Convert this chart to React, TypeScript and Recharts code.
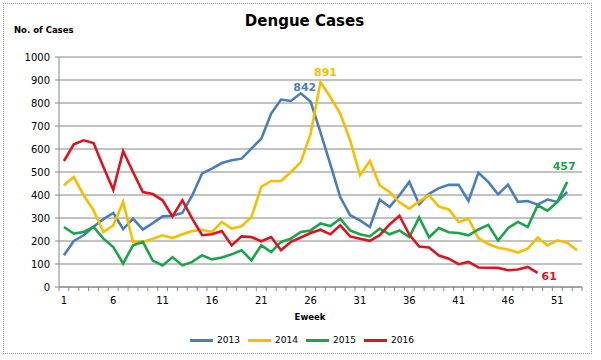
import React from 'react';
import { LineChart, Line, XAxis, YAxis, CartesianGrid } from 'recharts';

const weeks = [
  1, 2, 3, 4, 5, 6, 7, 8, 9, 10, 11, 12, 13, 14, 15, 16, 17, 18, 19, 20, 21, 22, 23, 24, 25, 26,
  27, 28, 29, 30, 31, 32, 33, 34, 35, 36, 37, 38, 39, 40, 41, 42, 43, 44, 45, 46, 47, 48, 49, 50,
  51, 52, 53,
];
const weekTickLabels = [1, 6, 11, 16, 21, 26, 31, 36, 41, 46, 51];
const caseTicks = [0, 100, 200, 300, 400, 500, 600, 700, 800, 900, 1000];

const cases2013 = [
  138, 200, 225, 262, 295, 322, 252, 297, 250, 278, 307, 310, 322, 398, 494, 515, 539, 551, 558, 602,
  645, 754, 815, 809, 842, 805, 672, 533, 391, 312, 290, 261, 380, 348, 399, 457, 360, 405, 430, 444,
  444, 374, 497, 457, 403, 445, 370, 374, 358, 380, 370, 413, null,
];
const cases2014 = [
  442, 478, 399, 333, 239, 268, 370, 196, 196, 210, 225, 213, 229, 243, 249, 239, 283, 254, 264, 304,
  435, 461, 461, 500, 543, 667, 891, 826, 754, 638, 486, 548, 442, 413, 368, 341, 372, 399, 350, 337,
  283, 297, 212, 187, 171, 163, 150, 167, 215, 181, 203, 193, 160,
];
const cases2015 = [
  261, 232, 239, 261, 210, 174, 102, 181, 196, 115, 94, 130, 94, 109, 138, 120, 128, 142, 160, 116,
  181, 152, 196, 210, 239, 246, 276, 265, 297, 246, 229, 220, 254, 229, 246, 217, 303, 216, 256, 238,
  235, 225, 250, 270, 202, 256, 283, 261, 355, 332, 370, 457, null,
];
const cases2016 = [
  548, 620, 638, 626, 522, 423, 591, 500, 413, 404, 377, 307, 377, 297, 225, 229, 243, 181, 220, 217,
  199, 217, 160, 196, 215, 235, 249, 229, 268, 220, 210, 201, 225, 272, 310, 228, 176, 172, 137, 123,
  99, 109, 85, 84, 83, 73, 76, 87, 61, null, null, null, null,
];

const series = [
  { key: 'y2013', name: '2013', values: cases2013, color: '#4a7ebb', labelWeek: 25 },
  { key: 'y2014', name: '2014', values: cases2014, color: '#f7be00', labelWeek: 27 },
  { key: 'y2015', name: '2015', values: cases2015, color: '#1aa54a', labelWeek: 52 },
  { key: 'y2016', name: '2016', values: cases2016, color: '#dc1420', labelWeek: 49 },
];

const data = weeks.map((w, i) => {
  const row: any = { week: w };
  series.forEach((s) => (row[s.key] = s.values[i]));
  return row;
});

// where each data label sits relative to its point
const labelPos: Record<string, { dx: number; dy: number; anchor: string }> = {
  y2013: { dx: 4, dy: -2, anchor: 'middle' },
  y2014: { dx: 5, dy: -6, anchor: 'middle' },
  y2015: { dx: -3, dy: -12, anchor: 'middle' },
  y2016: { dx: 4, dy: 7, anchor: 'start' },
};

const W = 601;
const H = 360;
const margin = { top: 57, right: 19, left: 19, bottom: 43 };
const yAxisW = 40;
const plotW = W - margin.left - margin.right - yAxisW;
const band = plotW / weeks.length;
const axisColor = '#868686';
const font = '"DejaVu Sans", sans-serif';

const WeekTick = (props: any) => {
  const { x, y, payload, index } = props;
  const show = weekTickLabels.includes(payload.value);
  return (
    <g>
      <line x1={x - band / 2} x2={x - band / 2} y1={y} y2={y + 4} stroke={axisColor} />
      {index === weeks.length - 1 && (
        <line x1={x + band / 2} x2={x + band / 2} y1={y} y2={y + 4} stroke={axisColor} />
      )}
      {show && (
        <text x={x} y={y + 17} textAnchor="middle" fontSize={10} fontFamily={font} fill="#000">
          {payload.value}
        </text>
      )}
    </g>
  );
};

const makeLabel = (s: typeof series[number]) => (props: any) => {
  const { x, y, value, index } = props;
  if (index !== s.labelWeek - 1 || value == null) return null;
  const p = labelPos[s.key];
  return (
    <text
      x={x + p.dx}
      y={y + p.dy}
      textAnchor={p.anchor}
      fontSize={11}
      fontWeight="bold"
      fontFamily={font}
      fill={s.color}
    >
      {value}
    </text>
  );
};

export default function App() {
  return (
    <div style={{ position: 'absolute', left: 0, top: 0, width: W, height: H, background: '#fff', fontFamily: font }}>
      <div
        style={{
          position: 'absolute',
          left: 3,
          top: 3,
          width: 589,
          height: 351,
          boxSizing: 'border-box',
          border: '1px dotted #9a9a9a',
        }}
      />
      <div style={{ position: 'absolute', left: 0, top: 0 }}>
        <LineChart width={W} height={H} data={data} margin={margin}>
          <CartesianGrid vertical={false} stroke={axisColor} />
          <XAxis
            dataKey="week"
            interval={0}
            tickSize={0}
            tickMargin={0}
            height={30}
            padding={{ left: band / 2, right: band / 2 }}
            stroke={axisColor}
            tick={<WeekTick />}
          />
          <YAxis
            width={yAxisW}
            domain={[0, 1000]}
            ticks={caseTicks}
            interval={0}
            tickSize={4}
            tickMargin={5}
            stroke={axisColor}
            tick={{ fill: '#000', fontSize: 10, fontFamily: font }}
          />
          {series.map((s) => (
            <Line
              key={s.key}
              type="linear"
              dataKey={s.key}
              name={s.name}
              stroke={s.color}
              strokeWidth={2.6}
              dot={false}
              activeDot={false}
              isAnimationActive={false}
              label={makeLabel(s)}
            />
          ))}
        </LineChart>
      </div>
      <div
        style={{
          position: 'absolute',
          left: 0,
          width: 609,
          top: 12,
          textAlign: 'center',
          fontSize: 15,
          fontWeight: 'bold',
          lineHeight: '18px',
        }}
      >
        Dengue Cases
      </div>
      <div style={{ position: 'absolute', left: 14, top: 24, fontSize: 8.5, fontWeight: 'bold', lineHeight: '12px' }}>
        No. of Cases
      </div>
      <div
        style={{
          position: 'absolute',
          left: 260,
          width: 100,
          top: 311,
          textAlign: 'center',
          fontSize: 8.5,
          fontWeight: 'bold',
          lineHeight: '12px',
        }}
      >
        Eweek
      </div>
      <div style={{ position: 'absolute', left: 190, top: 334, display: 'flex', fontSize: 9, lineHeight: '12px' }}>
        {series.map((s) => (
          <div key={s.key} style={{ width: 58, display: 'flex', alignItems: 'center' }}>
            <div style={{ width: 23, height: 3, background: s.color, marginRight: 4 }} />
            <span>{s.name}</span>
          </div>
        ))}
      </div>
    </div>
  );
}
